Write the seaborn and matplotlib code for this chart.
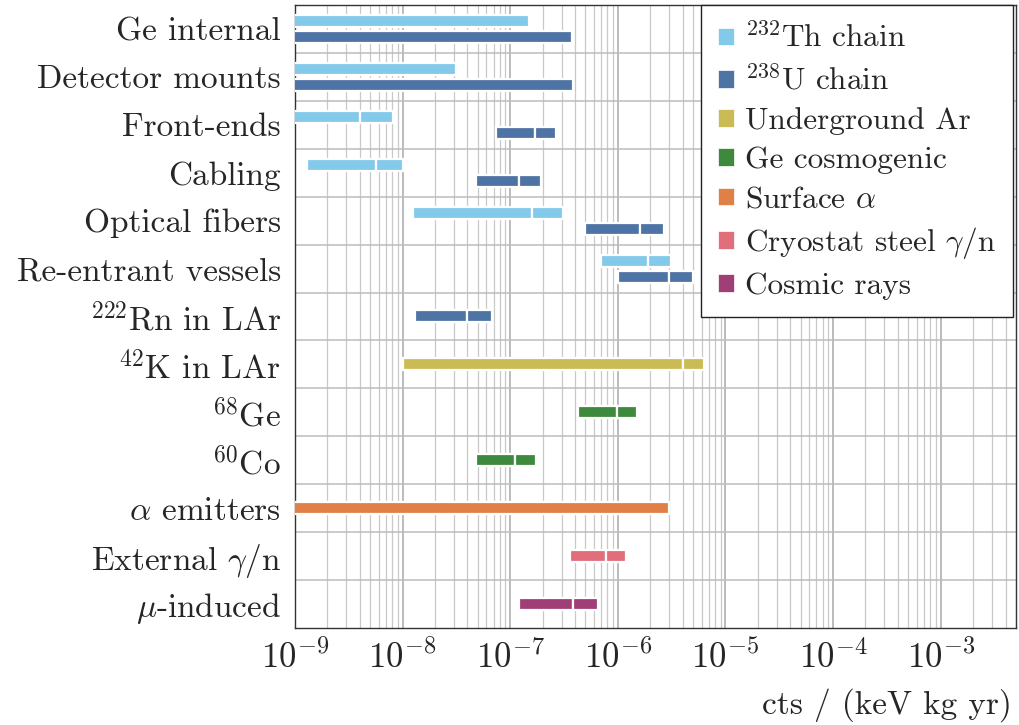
import matplotlib
matplotlib.use("Agg")
import matplotlib.pyplot as plt
import matplotlib.ticker as mticker
from matplotlib.patches import Patch
import numpy as np
import pandas as pd
import seaborn as sns

# rows, top to bottom
labels = [
    "Ge internal", "Detector mounts", "Front-ends", "Cabling", "Optical fibers",
    "Re-entrant vessels", r"$^{222}$Rn in LAr", r"$^{42}$K in LAr", r"$^{68}$Ge",
    r"$^{60}$Co", r"$\alpha$ emitters", r"External $\gamma/$n", r"$\mu$-induced",
]

# 232Th / 238U contributions for the first six rows (lo, split, hi); nan = no split
th_lo = [1e-10, 1e-10, 1e-10, 1.3e-9, 1.25e-8, 6.9e-7]
th_mid = [np.nan, np.nan, 4.0e-9, 5.6e-9, 1.6e-7, 1.9e-6]
th_hi = [1.5e-7, 3.1e-8, 8.1e-9, 1.0e-8, 3.1e-7, 3.1e-6]
u_lo = [1e-10, 1e-10, 7.4e-8, 4.8e-8, 5.0e-7, 1.0e-6]
u_mid = [np.nan, np.nan, 1.7e-7, 1.2e-7, 1.6e-6, 3.0e-6]
u_hi = [3.75e-7, 3.8e-7, 2.65e-7, 1.95e-7, 2.7e-6, 5.0e-6]

# one bar per row for the remaining rows
single_series = ["u", "ar", "ge", "ge", "alpha", "steel", "cosmic"]
single_lo = [1.3e-8, 1.0e-8, 4.3e-7, 4.8e-8, 1e-10, 3.6e-7, 1.2e-7]
single_mid = [3.95e-8, 4.0e-6, 9.8e-7, 1.1e-7, np.nan, 7.8e-7, 3.8e-7]
single_hi = [6.7e-8, 6.3e-6, 1.5e-6, 1.73e-7, 3.0e-6, 1.2e-6, 6.5e-7]

series_keys = ["th", "u", "ar", "ge", "alpha", "steel", "cosmic"]
series_names = [
    r"$^{232}$Th chain", r"$^{238}$U chain", "Underground Ar", "Ge cosmogenic",
    r"Surface $\alpha$", r"Cryostat steel $\gamma/$n", "Cosmic rays",
]
colors = ["#82C9EA", "#4E74A6", "#CBBB55", "#3E8A3C", "#E08046", "#E06E7B", "#A03E76"]
palette = dict(zip(series_keys, colors))

rows = []
for i in range(len(th_lo)):
    rows.append(("th", i - 0.165, th_lo[i], th_mid[i], th_hi[i]))
    rows.append(("u", i + 0.175, u_lo[i], u_mid[i], u_hi[i]))
for j, key in enumerate(single_series):
    rows.append((key, len(th_lo) + j, single_lo[j], single_mid[j], single_hi[j]))
bars = pd.DataFrame(rows, columns=["series", "y", "lo", "mid", "hi"])

sns.set_theme(style="white")
plt.rcParams["font.family"] = ["cmr10", "DejaVu Serif"]
plt.rcParams["mathtext.fontset"] = "cm"
plt.rcParams["axes.unicode_minus"] = False
plt.rcParams["axes.formatter.use_mathtext"] = True

fig, ax = plt.subplots(figsize=(10.19, 7.25), dpi=100)
fig.subplots_adjust(left=0.2895, right=0.997, bottom=0.134, top=0.993)

bar_h = 0.25
for _, b in bars.iterrows():
    edges = [b.lo, b.hi] if np.isnan(b.mid) else [b.lo, b.mid, b.hi]
    for a, z in zip(edges[:-1], edges[1:]):
        ax.barh(b.y, z - a, left=a, height=bar_h, color=palette[b.series],
                edgecolor="white", linewidth=1.6, zorder=3)

ax.set_xscale("log")
ax.set_xlim(1e-9, 5e-3)
ax.set_ylim(len(labels) - 0.5, -0.5)
ax.set_yticks(range(len(labels)))
ax.set_yticklabels(labels, fontsize=24)
ax.set_yticks(np.arange(0.5, len(labels) - 0.5), minor=True)
ax.xaxis.set_minor_locator(mticker.LogLocator(base=10, subs=np.arange(2, 10), numticks=200))
ax.xaxis.set_minor_formatter(mticker.NullFormatter())
ax.set_xticks([1e-9, 1e-8, 1e-7, 1e-6, 1e-5, 1e-4, 1e-3])
ax.tick_params(axis="x", which="major", labelsize=25, length=0, pad=9)
ax.tick_params(axis="x", which="minor", length=0)
ax.tick_params(axis="y", which="both", length=0, pad=10)

ax.grid(True, axis="x", which="major", color="#a8a8a8", linewidth=1.1, zorder=0)
ax.grid(True, axis="x", which="minor", color="#c8c8c8", linewidth=0.9, zorder=0)
ax.grid(True, axis="y", which="minor", color="#bcbcbc", linewidth=1.1, zorder=0)
ax.grid(False, axis="y", which="major")
ax.set_axisbelow(True)
for s in ax.spines.values():
    s.set_color("#333333")
    s.set_linewidth(1.0)

fig.text(0.993, 0.004, "cts / (keV kg yr)", ha="right", va="bottom", fontsize=24)

handles = [Patch(facecolor=c, edgecolor="white", linewidth=0.5) for c in colors]
leg = ax.legend(handles, series_names, loc="upper right", fontsize=22.5,
                handlelength=0.5, handleheight=0.5, handletextpad=0.35,
                labelspacing=0.36, borderpad=0.55, borderaxespad=0.0,
                frameon=True, fancybox=False, framealpha=1.0,
                bbox_to_anchor=(0.996, 1.0))
leg.get_frame().set_edgecolor("#222222")
leg.get_frame().set_linewidth(1.0)

fig.savefig("out.png", dpi=100)
